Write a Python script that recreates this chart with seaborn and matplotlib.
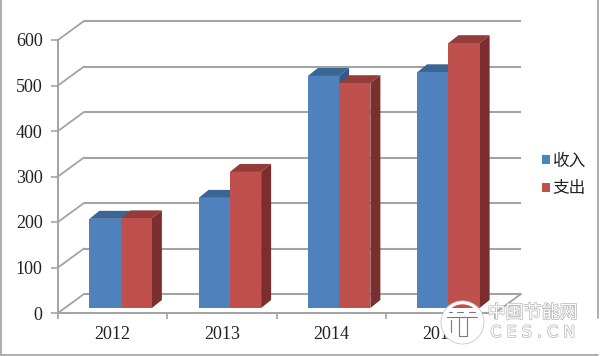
import matplotlib
matplotlib.use("Agg")
import matplotlib.pyplot as plt
import matplotlib.patheffects as pe
from matplotlib.lines import Line2D
from matplotlib.patches import Polygon, Circle, Rectangle
from matplotlib.transforms import Affine2D
import pandas as pd
import seaborn as sns

years = ["2012", "2013", "2014", "2015"]
income = [196, 242, 510, 518]
expense = [197, 299, 494, 582]
series_names = ["收入", "支出"]
y_ticks = [0, 100, 200, 300, 400, 500, 600]

W, H = 600, 356
FRONT = "#4F81BD", "#C0504D"
TOP = "#3A6595", "#943C3A"
SIDE = "#33598A", "#7A2E2D"
GRID = "#A3A3A3"
CJK = ["Noto Sans CJK SC", "DejaVu Sans"]
SERIF = ["Liberation Serif", "DejaVu Serif"]

sns.set_theme(style="white")
plt.rcParams["font.family"] = SERIF

fig = plt.figure(figsize=(W / 100, H / 100), dpi=100, facecolor="white")
L, R, B, T = 58, 495, 313, 40
ax = fig.add_axes([L / W, (H - B) / H, (R - L) / W, (B - T) / H])

df = pd.DataFrame({
    "year": years * 2,
    "value": income + expense,
    "series": [series_names[0]] * 4 + [series_names[1]] * 4,
})
sns.barplot(data=df, x="year", y="value", hue="series", palette=list(FRONT),
            width=0.572, gap=0, saturation=1, legend=False, ax=ax)

ax.set_xlim(-0.5, 3.5)
ax.set_ylim(0, 600)
ux = (R - L) / 4          # pixels per category
uy = (B - T) / 600        # pixels per value unit


def px(dx, dy):
    return dx / ux, dy / uy


ax.patch.set_alpha(0)
sns.despine(ax=ax)
for s in ("left", "bottom"):
    ax.spines[s].set_color(GRID)
    ax.spines[s].set_linewidth(1.4)

ax.set_xlabel("")
ax.set_ylabel("")
ax.set_yticks(y_ticks)
ax.set_xticks(range(4))
ax.set_xticklabels(years)
ax.set_xticks([-0.5, 0.5, 1.5, 2.5, 3.5], minor=True)
ax.tick_params(axis="x", which="major", length=0, pad=9.5, labelsize=13, colors="#222222")
ax.tick_params(axis="x", which="minor", bottom=True, length=4, width=1.2, color=GRID)
ax.tick_params(axis="y", left=True, length=5, width=1.2, color=GRID, pad=6,
               labelsize=13, labelcolor="#222222")

# back wall, side wall and floor lines
bx, by = px(26, 19)
for v in y_ticks:
    ax.plot([-0.5 + bx, 3.5 + bx], [v + by, v + by], color=GRID, lw=1.5,
            zorder=1, clip_on=False, solid_capstyle="butt")
    ax.plot([-0.5, -0.5 + bx], [v, v + by], color=GRID, lw=1.3,
            zorder=1, clip_on=False)
ax.plot([3.5, 3.5 + bx], [0, by], color=GRID, lw=1.3, zorder=1, clip_on=False)

# 3D look: shift fronts off the axis plane, add top and side faces
ox, oy = px(8, 5)
dx, dy = px(10, 8)
shift = Affine2D().translate(ox, oy) + ax.transData
for i, cont in enumerate(ax.containers):
    base = 4 + 2 * i
    for bar in cont:
        x0, w, h = bar.get_x(), bar.get_width(), bar.get_height()
        bar.set_transform(shift)
        bar.set_clip_on(False)
        bar.set_zorder(base + 1)
        bar.set_edgecolor("none")
        bar.set_linewidth(0)
        x1 = x0 + w
        ax.add_patch(Polygon([(x0, h), (x1, h), (x1 + dx, h + dy), (x0 + dx, h + dy)],
                             closed=True, fc=TOP[i], ec="none", transform=shift,
                             clip_on=False, zorder=base))
        ax.add_patch(Polygon([(x1, 0), (x1 + dx, dy), (x1 + dx, h + dy), (x1, h)],
                             closed=True, fc=SIDE[i], ec="none", transform=shift,
                             clip_on=False, zorder=base))

# legend
handles = [Rectangle((0, 0), 1, 1, fc=c, ec="none") for c in FRONT]
ax.legend(handles, series_names, loc="center left",
          bbox_to_anchor=(533.5 / W, (H - 175) / H), bbox_transform=fig.transFigure,
          frameon=False, handlelength=0.5, handleheight=0.5, handletextpad=0.15,
          labelspacing=0.65, borderpad=0, prop={"family": CJK, "size": 12},
          labelcolor="#222222")


def fx(p):
    return p / W


def fy(p):
    return (H - p) / H


# picture frame
for xs, ys in [((0.8, 0.8), (0, 354.8)), ((0.8, 597.5), (354.8, 354.8)), ((597.5, 597.5), (0, 318))]:
    fig.add_artist(Line2D([fx(x) for x in xs], [fy(y) for y in ys], color="#A8A8A8", lw=1.3))

# watermark
px_tf = Affine2D().scale(1, -1).translate(0, H).scale(fig.dpi / 100)
ring = Circle((462.5, 322.5), 20, fc="none", ec="white", lw=2.6, transform=px_tf, zorder=20)
fig.add_artist(ring)
fig.add_artist(Circle((462.5, 322.5), 21.5, fc="none", ec="#BDBDBD", lw=0.5, transform=px_tf, zorder=20))
inner = Rectangle((440, 311), 45, 33, fc="white", ec="none", transform=px_tf, zorder=19)
fig.add_artist(inner)
inner.set_clip_path(Circle((462.5, 322.5), 20, transform=px_tf))
for xs, ys in [((447, 477), (317, 317)), ((459, 459), (318, 336)), ((467, 467), (318, 336)),
               ((459, 467), (336, 336)), ((449, 452), (312, 312)), ((457, 463), (312, 312)),
               ((469, 475), (312, 312)), ((451, 451), (320, 332))]:
    fig.add_artist(Line2D([fx(x) for x in xs], [fy(y) for y in ys], color="#7A7A7A", lw=0.8, zorder=21))
stroke = [pe.withStroke(linewidth=1.0, foreground="#B5B5B5")]
fig.text(fx(532.5), fy(313), "中国节能网", family=CJK, fontsize=13, color="white",
         ha="center", va="center", path_effects=stroke, zorder=22)
fig.text(fx(533), fy(332.5), "C E S . C N", family=["DejaVu Sans"], fontsize=11.5, color="white",
         ha="center", va="center", path_effects=stroke, zorder=22)

fig.savefig("out.png", dpi=100, facecolor="white")
